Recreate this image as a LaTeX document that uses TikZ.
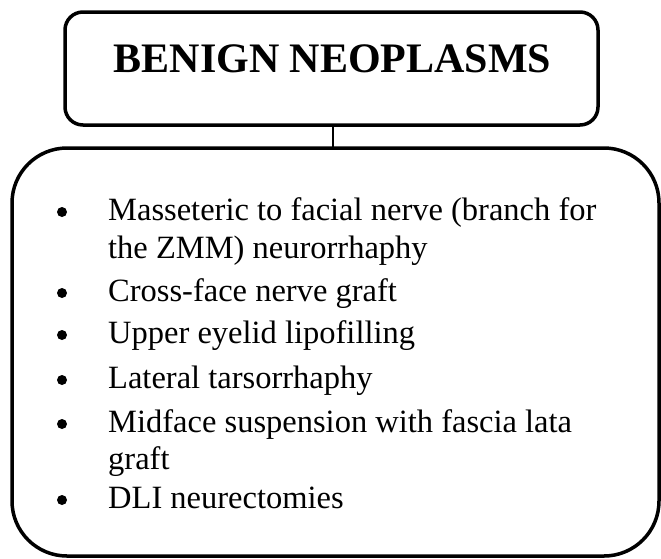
\documentclass[tikz,border=0pt]{standalone}
\usepackage{fontspec}
\setmainfont{Liberation Serif}
\begin{document}
\begin{tikzpicture}[x=1pt,y=-1pt,
  boxline/.style={draw=black,line width=3.5pt},
  itemtext/.style={anchor=base west,inner sep=0pt,font=\fontsize{32.5}{32.5}\selectfont},
  bulletdot/.style={circle,fill=black,inner sep=0pt,minimum size=10pt},
  titletext/.style={anchor=base,inner sep=0pt,font=\fontsize{42}{42}\selectfont\bfseries}]
\useasboundingbox (0,0) rectangle (661,558);
% boxes
\draw[boxline,rounded corners=18pt] (65,12) rectangle (598,125);
\draw[boxline,rounded corners=55pt] (12,148) rectangle (659,556);
\coordinate (topbot) at (333,125);
\coordinate (bigtop) at (333,148);
\draw[line width=1.2pt] (topbot) -- (bigtop);
% title
\node[titletext] (title) at (332.5,72) {BENIGN NEOPLASMS};
% items
\node[itemtext] (l1) at (108,220) {Masseteric to facial nerve (branch for};
\node[itemtext] (l2) at (108,258) {the ZMM) neurorrhaphy};
\node[itemtext] (l3) at (108,301) {Cross-face nerve graft};
\node[itemtext] (l4) at (108,343) {Upper eyelid lipofilling};
\node[itemtext] (l5) at (108,388) {Lateral tarsorrhaphy};
\node[itemtext] (l6) at (108,432) {Midface suspension with fascia lata};
\node[itemtext] (l7) at (108,469) {graft};
\node[itemtext] (l8) at (108,508) {DLI neurectomies};
% bullets
\node[bulletdot] (b1) at (62,212) {};
\node[bulletdot] (b3) at (62,293) {};
\node[bulletdot] (b4) at (62,335) {};
\node[bulletdot] (b5) at (62,380) {};
\node[bulletdot] (b6) at (62,424) {};
\node[bulletdot] (b8) at (62,500) {};
\end{tikzpicture}
\end{document}
